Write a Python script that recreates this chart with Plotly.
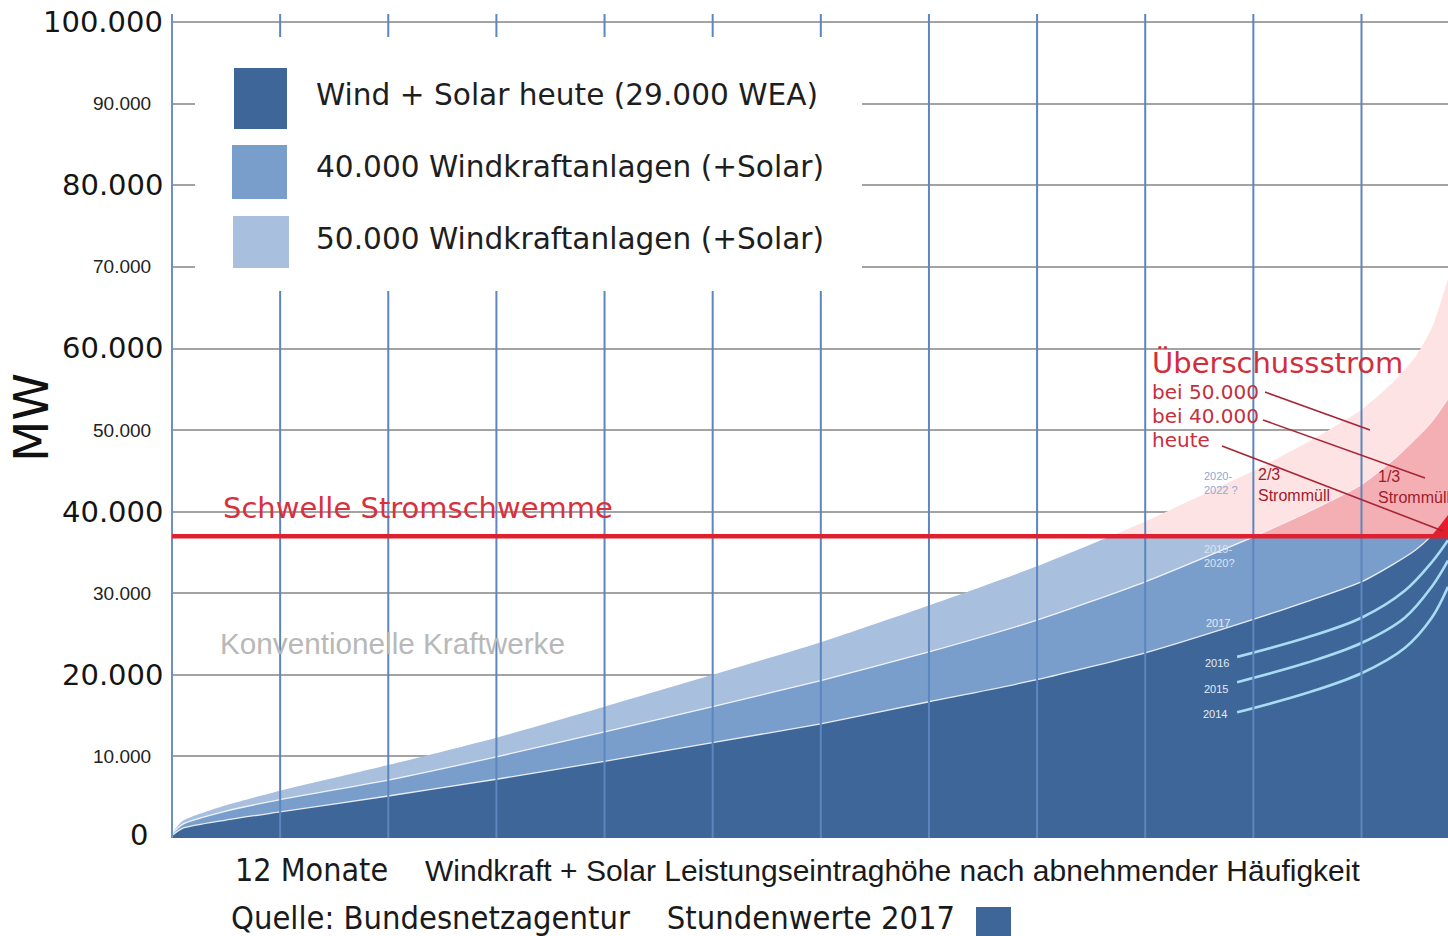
import plotly.graph_objects as go

# ---------------- data ----------------
months = [0, 0.1, 0.5, 1, 2, 3, 4, 5, 6, 7, 8, 9, 10, 10.5, 11, 11.3, 11.5, 11.65, 11.8]
wind_solar_today = [300, 1200, 2200, 3200, 5150, 7200, 9400, 11700, 14000, 16700,
                    19400, 22700, 26800, 29000, 31400, 33600, 35300, 37100, 39600]
wea_40000 = [500, 1700, 3300, 4700, 7100, 9950, 13000, 16100, 19300, 22800,
             26700, 31400, 36900, 39900, 43300, 46400, 48900, 51000, 53800]
wea_50000 = [600, 2100, 4000, 5800, 8950, 12300, 16100, 20000, 24000, 28500,
             33300, 38800, 45000, 48500, 52500, 56000, 59000, 62500, 68500]
threshold = 37000

year_months = [9.85, 10.5, 11.0, 11.4, 11.65, 11.8]
year_2016 = [22200, 24600, 27000, 30300, 33800, 36500]
year_2015 = [19100, 21500, 23900, 27000, 30800, 34000]
year_2014 = [15400, 17800, 20200, 23300, 27000, 30800]

y_ticks = [0, 10000, 20000, 30000, 40000, 50000, 60000, 70000, 80000, 90000, 100000]
legend_labels = ["Wind + Solar heute (29.000 WEA)",
                 "40.000 Windkraftanlagen (+Solar)",
                 "50.000 Windkraftanlagen (+Solar)"]

X_MAX = 11.8
Y_MAX = 101000

# ---------------- styles ----------------
DARK = "#3e6698"
MED = "#7a9ecb"
LIGHT = "#a8bfdd"
PINK_L = "#fde3e3"
PINK_M = "#f4afb4"
RED = "#e61d2b"
VLINE = "#5c86bd"

W, H = 1448, 936
L, T, B, R = 172, 14, 98, 0
PW, PH = W - L - R, H - T - B


def px(x):
    return (x - L) / PW


def py(y):
    return (H - B - y) / PH


f = threshold / Y_MAX
SPL = dict(shape="spline", smoothing=0.6)

fig = go.Figure()

# lower subplot (blue, clipped at threshold)
fig.add_trace(go.Scatter(x=months, y=wea_50000, fill="tozeroy", fillcolor=LIGHT,
                         line=dict(width=0, **SPL),
                         mode="lines", xaxis="x", yaxis="y", hoverinfo="skip"))
fig.add_trace(go.Scatter(x=months, y=wea_40000, fill="tozeroy", fillcolor=MED,
                         line=dict(width=1.3, color="rgba(255,255,255,0.85)", **SPL),
                         mode="lines", xaxis="x", yaxis="y", hoverinfo="skip"))
fig.add_trace(go.Scatter(x=months, y=wind_solar_today, fill="tozeroy", fillcolor=DARK,
                         line=dict(width=1.3, color="rgba(255,255,255,0.85)", **SPL),
                         mode="lines", xaxis="x", yaxis="y", hoverinfo="skip"))
for ys in (year_2016, year_2015, year_2014):
    fig.add_trace(go.Scatter(x=year_months, y=ys, mode="lines",
                             line=dict(width=2.6, color="#a7dcf3", shape="spline", smoothing=1.0),
                             xaxis="x", yaxis="y", hoverinfo="skip"))

# upper subplot (surplus, red tones)
fig.add_trace(go.Scatter(x=months, y=wea_50000, fill="tozeroy", fillcolor=PINK_L,
                         line=dict(width=0, **SPL),
                         mode="lines", xaxis="x2", yaxis="y2", hoverinfo="skip"))
fig.add_trace(go.Scatter(x=months, y=wea_40000, fill="tozeroy", fillcolor=PINK_M,
                         line=dict(width=1, color="rgba(255,255,255,0.7)", **SPL),
                         mode="lines", xaxis="x2", yaxis="y2", hoverinfo="skip"))
fig.add_trace(go.Scatter(x=months, y=wind_solar_today, fill="tozeroy", fillcolor=RED,
                         line=dict(width=0, **SPL),
                         mode="lines", xaxis="x2", yaxis="y2", hoverinfo="skip"))

shapes = []
# vertical month lines (above traces)
for m in range(1, 12):
    shapes.append(dict(type="line", xref="x", yref="paper", x0=m, x1=m, y0=0, y1=1,
                       line=dict(color=VLINE, width=2), layer="above"))
# left axis line
shapes.append(dict(type="line", xref="paper", yref="paper", x0=0, x1=0, y0=0, y1=1,
                   line=dict(color="#6f91bf", width=2), layer="above"))
# threshold line (paper coords so it is not clipped by the subplot edge)
shapes.append(dict(type="line", xref="paper", yref="paper", x0=0, x1=1, y0=f, y1=f,
                   line=dict(color="#e0202e", width=4.5), layer="above"))
# legend box
shapes.append(dict(type="rect", xref="paper", yref="paper", x0=px(195), x1=px(862),
                   y0=py(291), y1=py(37), fillcolor="white", line=dict(width=0), layer="above"))
legend_boxes = [(234, 287, 68, 129, DARK), (232, 287, 145, 199, MED), (233, 289, 216, 268, LIGHT)]
for x0, x1, y0, y1, c in legend_boxes:
    shapes.append(dict(type="rect", xref="paper", yref="paper", x0=px(x0), x1=px(x1),
                       y0=py(y1), y1=py(y0), fillcolor=c, line=dict(width=0), layer="above"))
# pointer lines
for (xa, ya, xb, yb) in [(1265, 392, 1370, 430), (1263, 420, 1425, 478), (1222, 446, 1443, 531)]:
    shapes.append(dict(type="line", xref="paper", yref="paper", x0=px(xa), y0=py(ya),
                       x1=px(xb), y1=py(yb), line=dict(color="#a82436", width=1.6), layer="above"))
# small square next to the source line
shapes.append(dict(type="rect", xref="paper", yref="paper", x0=px(976), x1=px(1011),
                   y0=py(936), y1=py(907), fillcolor=DARK, line=dict(width=0), layer="above"))

ann = []
BIG = dict(family="DejaVu Sans, Verdana, sans-serif", size=29, color="#141414")
SMALL = dict(family="Liberation Sans, Arial, sans-serif", size=19, color="#222222")
for v in y_ticks:
    label = f"{v:,}".replace(",", ".")
    big = (v // 10000) % 2 == 0
    right = 165 if big else 153
    if v == 0:
        right = 150
    ann.append(dict(text=label, xref="paper", yref="paper", x=px(right), y=v / Y_MAX,
                    xanchor="right", yanchor="middle", showarrow=False,
                    font=BIG if big else SMALL, yshift=3 if v == 0 else 0))

ann.append(dict(text="MW", xref="paper", yref="paper", x=px(31), y=py(418), textangle=-90,
                xanchor="center", yanchor="middle", showarrow=False,
                font=dict(family="DejaVu Sans, Verdana, sans-serif", size=48, color="#111111")))

for i, lab in enumerate(legend_labels):
    ann.append(dict(text=lab, xref="paper", yref="paper", x=px(314), y=py(95 + 72 * i),
                    xanchor="left", yanchor="middle", showarrow=False,
                    font=dict(family="DejaVu Sans, Verdana, sans-serif", size=29.6, color="#1e1e1e")))

ann.append(dict(text="Schwelle Stromschwemme", xref="paper", yref="paper", x=px(221), y=py(508),
                xanchor="left", yanchor="middle", showarrow=False,
                font=dict(family="DejaVu Sans, Verdana, sans-serif", size=29, color="#d8313d")))
ann.append(dict(text="Konventionelle Kraftwerke", xref="paper", yref="paper", x=px(218), y=py(643),
                xanchor="left", yanchor="middle", showarrow=False,
                font=dict(family="Liberation Sans, Arial, sans-serif", size=29.7, color="#b8b8b8")))

ann.append(dict(text="Überschussstrom", xref="paper", yref="paper", x=px(1150), y=py(363),
                xanchor="left", yanchor="middle", showarrow=False,
                font=dict(family="DejaVu Sans, Verdana, sans-serif", size=29, color="#d12e3b")))
for i, t in enumerate(["bei 50.000", "bei 40.000", "heute"]):
    ann.append(dict(text=t, xref="paper", yref="paper", x=px(1150), y=py(392 + 24 * i),
                    xanchor="left", yanchor="middle", showarrow=False,
                    font=dict(family="DejaVu Sans, Verdana, sans-serif", size=20, color="#c52f3e")))
for xl, yl, t in [(1256, 485, "2/3<br>Strommüll"), (1376, 487, "1/3<br>Strommüll")]:
    ann.append(dict(text=t, xref="paper", yref="paper", x=px(xl), y=py(yl), align="left",
                    xanchor="left", yanchor="middle", showarrow=False,
                    font=dict(family="Liberation Sans, Arial, sans-serif", size=16, color="#9e1b2d")))

year_labels = [(1217, 663, "2016", "#e3ebf5"), (1216, 689, "2015", "#e3ebf5"),
               (1215, 714, "2014", "#e3ebf5"), (1218, 623, "2017", "#e3ebf5"),
               (1219, 556, "2019-<br>2020?", "#dbe4f1"), (1221, 483, "2020-<br>2022 ?", "#8ea8d6")]
for xl, yl, t, c in year_labels:
    ann.append(dict(text=t, xref="paper", yref="paper", x=px(xl), y=py(yl), align="left",
                    xanchor="center", yanchor="middle", showarrow=False,
                    font=dict(family="Liberation Sans, Arial, sans-serif", size=11, color=c)))

ann.append(dict(text="12 Monate", xref="paper", yref="paper", x=px(233), y=py(870),
                xanchor="left", yanchor="middle", showarrow=False,
                font=dict(family="DejaVu Sans Condensed, DejaVu Sans, sans-serif", size=32, color="#1a1a1a")))
ann.append(dict(text="Windkraft + Solar Leistungseintraghöhe nach abnehmender Häufigkeit",
                xref="paper", yref="paper", x=px(423), y=py(870),
                xanchor="left", yanchor="middle", showarrow=False,
                font=dict(family="Liberation Sans, Arial, sans-serif", size=30, color="#1a1a1a")))
ann.append(dict(text="Quelle: Bundesnetzagentur\u00a0\u00a0\u00a0\u00a0Stundenwerte 2017",
                xref="paper", yref="paper", x=px(229), y=py(918),
                xanchor="left", yanchor="middle", showarrow=False,
                font=dict(family="DejaVu Sans Condensed, DejaVu Sans, sans-serif", size=32.4, color="#1a1a1a")))

axis_common = dict(showticklabels=False, zeroline=False, showline=False, ticks="")
fig.update_layout(
    width=W, height=H,
    margin=dict(l=L, r=R, t=T, b=B),
    paper_bgcolor="white", plot_bgcolor="white",
    showlegend=False,
    xaxis=dict(range=[0, X_MAX], showgrid=False, anchor="y", **axis_common),
    xaxis2=dict(range=[0, X_MAX], showgrid=False, anchor="y2", matches="x", **axis_common),
    yaxis=dict(range=[0, threshold], domain=[0, f], tickvals=[t for t in y_ticks if t < threshold],
               showgrid=True, gridcolor="#a3a3a3", gridwidth=1.5, anchor="x", **axis_common),
    yaxis2=dict(range=[threshold, Y_MAX], domain=[f, 1], tickvals=[t for t in y_ticks if t > threshold],
                showgrid=True, gridcolor="#a3a3a3", gridwidth=1.5, anchor="x2", **axis_common),
    shapes=shapes,
    annotations=ann,
    hovermode=False,
)

fig.write_html("out.html", config={"displayModeBar": False},
               post_script="document.body.style.margin='0';document.body.style.overflow='hidden';")
